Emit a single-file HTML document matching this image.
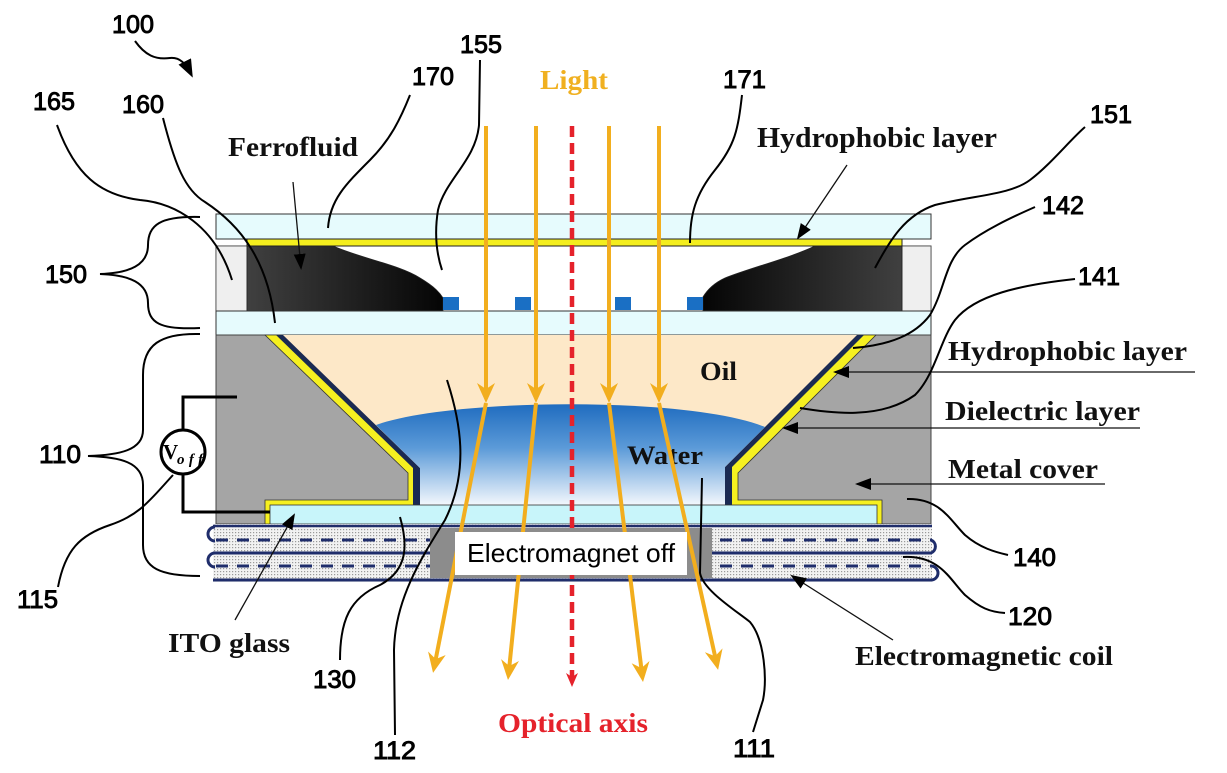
<!DOCTYPE html>
<html><head><meta charset="utf-8"><style>
html,body{margin:0;padding:0;background:#fff;}
svg{display:block;}
.num{font-family:"Liberation Sans",sans-serif;font-size:25px;fill:#000;stroke:#000;stroke-width:0.9;}
.lab{font-family:"Liberation Serif",serif;font-weight:bold;fill:#111;}
.ld{fill:none;stroke:#000;stroke-width:2;}
.th{fill:none;stroke:#111;stroke-width:1.3;}
</style></head><body>
<svg width="1227" height="773" viewBox="0 0 1227 773" xmlns="http://www.w3.org/2000/svg">
<defs>
<pattern id="dots" width="3" height="3" patternUnits="userSpaceOnUse">
<rect width="3" height="3" fill="#f2f2f2"/><rect x="1" y="1" width="1.2" height="1.2" fill="#9a9a9a"/>
</pattern>
<linearGradient id="ffL" x1="0" x2="1" y1="0" y2="0"><stop offset="0" stop-color="#404040"/><stop offset="1" stop-color="#050505"/></linearGradient>
<linearGradient id="ffR" x1="1" x2="0" y1="0" y2="0"><stop offset="0" stop-color="#404040"/><stop offset="1" stop-color="#050505"/></linearGradient>
<linearGradient id="wat" gradientUnits="userSpaceOnUse" x1="0" y1="400" x2="0" y2="506">
<stop offset="0" stop-color="#1a68bd"/><stop offset="0.45" stop-color="#5b9ad8"/><stop offset="1" stop-color="#f6f9fd"/></linearGradient>
<marker id="oa" viewBox="0 0 20 18" refX="15" refY="9" markerWidth="20" markerHeight="18" markerUnits="userSpaceOnUse" orient="auto">
<path d="M0,0 L20,9 L0,18 L6,9 Z" fill="#f2ae1e"/></marker>
<marker id="ra" viewBox="0 0 14 12" refX="10" refY="6" markerWidth="14" markerHeight="12" markerUnits="userSpaceOnUse" orient="auto">
<path d="M0,0 L14,6 L0,12 L4,6 Z" fill="#e5222b"/></marker>
<marker id="ba" viewBox="0 0 16 12" refX="14" refY="6" markerWidth="16" markerHeight="12" markerUnits="userSpaceOnUse" orient="auto">
<path d="M0,0 L16,6 L0,12 Z" fill="#000"/></marker>
<marker id="bb" viewBox="0 0 18 14" refX="14" refY="7" markerWidth="18" markerHeight="14" markerUnits="userSpaceOnUse" orient="auto">
<path d="M0,0 L18,7 L0,14 Z" fill="#000"/></marker>
</defs>

<!-- top section -->
<rect x="216" y="214" width="715" height="25" fill="#e6fbfd" stroke="#333" stroke-width="1"/>
<rect x="216" y="246" width="715" height="65" fill="#fff" stroke="#333" stroke-width="1"/>
<rect x="216" y="246" width="31" height="65" fill="#efefef" stroke="#444" stroke-width="0.8"/>
<rect x="902" y="246" width="29" height="65" fill="#efefef" stroke="#444" stroke-width="0.8"/>
<path d="M247,246 L333,246 C360,258 400,265 420,278 C435,287 440,293 443,298 L443,311 L247,311 Z" fill="url(#ffL)" stroke="#222" stroke-width="0.8"/>
<path d="M902,246 L815,246 C790,258 750,268 725,278 C712,284 706,292 703,297 L703,311 L902,311 Z" fill="url(#ffR)" stroke="#222" stroke-width="0.8"/>
<rect x="443" y="297" width="16" height="13" fill="#1a6fc4"/>
<rect x="515" y="297" width="16" height="13" fill="#1a6fc4"/>
<rect x="615" y="297" width="16" height="13" fill="#1a6fc4"/>
<rect x="687" y="297" width="16" height="13" fill="#1a6fc4"/>
<rect x="247" y="239" width="655" height="7" fill="#f4ee1e" stroke="#222" stroke-width="1"/>
<rect x="216" y="311" width="715" height="24" fill="#e6fbfd" stroke="#333" stroke-width="1"/>

<!-- metal cover & cavity -->
<rect x="216" y="335" width="715" height="189" fill="#a5a5a5" stroke="#444" stroke-width="1"/>
<path d="M265,335 L876,335 L738,473 L738,500 L882,500 L882,524 L265,524 L265,500 L408,500 L408,473 Z" fill="#f6f020" stroke="#333" stroke-width="0.8"/>
<path d="M276,335 L864,335 L732,467 L732,506 L413,506 L413,468 Z" fill="#1b2a52"/>
<path d="M283,335 L857,335 L725,467 L725,506 L420,506 L420,468 Z" fill="#fde8c8"/>
<path d="M376,425 C450,398 690,396 765,427 L725,467 L725,506 L420,506 L420,468 Z" fill="url(#wat)"/>
<rect x="270" y="505" width="607" height="19" fill="#c8f5fa" stroke="#333" stroke-width="0.8"/>

<!-- coil -->
<rect x="213" y="524" width="719" height="58" fill="url(#dots)"/>
<line x1="213" y1="526" x2="932" y2="526" stroke="#1f2d6b" stroke-width="2.5"/>
<line x1="213" y1="553" x2="932" y2="553" stroke="#1f2d6b" stroke-width="3"/>
<line x1="213" y1="580" x2="932" y2="580" stroke="#1f2d6b" stroke-width="3"/>
<line x1="216" y1="540" x2="932" y2="540" stroke="#1f2d6b" stroke-width="3" stroke-dasharray="12 9"/>
<line x1="216" y1="566" x2="932" y2="566" stroke="#1f2d6b" stroke-width="3" stroke-dasharray="12 9"/>
<path d="M215,527 A7,7 0 0 0 215,541" fill="none" stroke="#1f2d6b" stroke-width="3"/>
<path d="M215,553 A7,7 0 0 0 215,567" fill="none" stroke="#1f2d6b" stroke-width="3"/>
<path d="M931,540 A7,7 0 0 1 931,553" fill="none" stroke="#1f2d6b" stroke-width="3"/>
<path d="M931,566 A7,7 0 0 1 931,580" fill="none" stroke="#1f2d6b" stroke-width="3"/>
<rect x="430" y="528" width="282" height="50" fill="#8c8c8c"/>

<!-- Oil / Water text -->
<text class="lab" x="700" y="380" font-size="26" textLength="37" lengthAdjust="spacingAndGlyphs">Oil</text>
<text class="lab" x="627" y="464" font-size="26" textLength="76" lengthAdjust="spacingAndGlyphs">Water</text>

<!-- light rays -->
<g stroke="#f2ae1e" stroke-width="4" fill="none">
<line x1="486" y1="126" x2="486" y2="398" marker-end="url(#oa)"/>
<line x1="536" y1="126" x2="536" y2="398" marker-end="url(#oa)"/>
<line x1="609" y1="126" x2="609" y2="398" marker-end="url(#oa)"/>
<line x1="659" y1="126" x2="659" y2="398" marker-end="url(#oa)"/>
<line x1="486" y1="403" x2="434" y2="668" marker-end="url(#oa)"/>
<line x1="536" y1="403" x2="508.5" y2="675" marker-end="url(#oa)"/>
<line x1="609" y1="403" x2="642.4" y2="677" marker-end="url(#oa)"/>
<line x1="659" y1="403" x2="717" y2="665" marker-end="url(#oa)"/>
</g>
<line x1="572" y1="126" x2="572" y2="683" stroke="#e5222b" stroke-width="4.5" stroke-dasharray="11 6" marker-end="url(#ra)"/>

<!-- Electromagnet off box -->
<rect x="455" y="532" width="232" height="43" fill="#fff"/>
<text x="467" y="562" font-family="Liberation Sans, sans-serif" font-size="26" fill="#000" textLength="208" lengthAdjust="spacingAndGlyphs">Electromagnet off</text>

<!-- Voff -->
<path d="M237,397 L183,397 L183,430 M183,474 L183,512 L270,512" fill="none" stroke="#000" stroke-width="3"/>
<circle cx="183" cy="452" r="22" fill="#fff" stroke="#000" stroke-width="3"/>
<text x="163" y="459" font-family="Liberation Serif, serif" font-weight="bold" font-size="21" fill="#000">V</text>
<text x="177" y="464" font-family="Liberation Serif, serif" font-style="italic" font-weight="bold" font-size="15" fill="#000" textLength="26" lengthAdjust="spacing">off</text>

<!-- labels -->
<text class="lab" x="540" y="89" font-size="27" style="fill:#f0b020" textLength="68" lengthAdjust="spacingAndGlyphs">Light</text>
<text class="lab" x="498" y="732" font-size="27" style="fill:#e5222b" textLength="150" lengthAdjust="spacingAndGlyphs">Optical axis</text>
<text class="lab" x="228" y="156" font-size="27" textLength="130" lengthAdjust="spacingAndGlyphs">Ferrofluid</text>
<text class="lab" x="757" y="147" font-size="28" textLength="240" lengthAdjust="spacingAndGlyphs">Hydrophobic layer</text>
<text class="lab" x="948" y="360" font-size="27" textLength="239" lengthAdjust="spacingAndGlyphs">Hydrophobic layer</text>
<text class="lab" x="945" y="420" font-size="27" textLength="195" lengthAdjust="spacingAndGlyphs">Dielectric layer</text>
<text class="lab" x="948" y="478" font-size="27" textLength="150" lengthAdjust="spacingAndGlyphs">Metal cover</text>
<text class="lab" x="855" y="665" font-size="27" textLength="258" lengthAdjust="spacingAndGlyphs">Electromagnetic coil</text>
<text class="lab" x="168" y="652" font-size="27" textLength="122" lengthAdjust="spacingAndGlyphs">ITO glass</text>

<!-- thin arrow leaders -->
<line class="th" x1="293" y1="182" x2="301" y2="268" marker-end="url(#ba)"/>
<line class="th" x1="235" y1="620" x2="294" y2="515" marker-end="url(#ba)"/>
<line class="th" x1="847" y1="165" x2="798" y2="238" marker-end="url(#ba)"/>
<line class="th" x1="1195" y1="372" x2="835" y2="372" marker-end="url(#ba)"/>
<line class="th" x1="1140" y1="428" x2="784" y2="428" marker-end="url(#ba)"/>
<line class="th" x1="1105" y1="484" x2="857" y2="484" marker-end="url(#ba)"/>
<line class="th" x1="893" y1="640" x2="792" y2="576" marker-end="url(#ba)"/>

<!-- numeral leaders -->
<path class="ld" d="M135,41 C145,55 155,60 170,58 C180,57 186,64 191,74" marker-end="url(#bb)"/>
<path class="ld" d="M57,125 C75,175 100,195 140,200 C175,203 215,225 232,280"/>
<path class="ld" d="M163,118 C175,165 185,190 205,202 C240,225 268,260 275,323"/>
<path class="ld" d="M410,95 C400,120 390,140 370,160 C345,185 330,200 328,228"/>
<path class="ld" d="M480,60 L479,125 C476,160 445,180 438,210 C434,235 437,255 442,270"/>
<path class="ld" d="M742,95 C738,130 735,145 715,170 C695,195 690,215 690,243"/>
<path class="ld" d="M875,268 C890,240 905,215 935,205 C975,195 1010,195 1030,180 C1050,165 1070,140 1085,127"/>
<path class="ld" d="M853,348 C890,345 915,335 930,315 C945,290 945,260 965,245 C985,230 1010,218 1035,207"/>
<path class="ld" d="M800,408 C830,413 880,420 915,395 C935,375 940,340 955,320 C975,295 1020,285 1075,279"/>
<path class="ld" d="M200,217 C160,216 148,225 148,245 C148,265 130,273 100,274 C130,275 148,283 148,303 C148,323 160,330 200,328"/>
<path class="ld" d="M200,334 C160,333 143,345 143,375 L143,430 C143,450 120,455 88,456 C120,457 143,462 143,485 L143,545 C143,568 160,576 200,576"/>
<path class="ld" d="M58,587 C65,550 80,535 110,525 C140,515 150,500 173,475"/>
<path class="ld" d="M400,517 C408,545 408,570 380,585 C350,598 340,620 340,660"/>
<path class="ld" d="M447,380 C460,420 470,470 445,520 C420,560 395,600 394,650 L395,735"/>
<path class="ld" d="M702,478 L700,573 C703,590 735,610 750,622 C765,640 767,680 763,700 L753,732"/>
<path class="ld" d="M907,499 C940,498 950,520 965,535 C980,548 995,552 1008,555"/>
<path class="ld" d="M903,557 C940,555 950,580 965,595 C980,608 990,612 1005,613"/>

<!-- numerals -->
<text class="num" x="112" y="33" textLength="42" lengthAdjust="spacingAndGlyphs">100</text>
<text class="num" x="33" y="110" textLength="42" lengthAdjust="spacingAndGlyphs">165</text>
<text class="num" x="122" y="113" textLength="42" lengthAdjust="spacingAndGlyphs">160</text>
<text class="num" x="412" y="85" textLength="42" lengthAdjust="spacingAndGlyphs">170</text>
<text class="num" x="460" y="53" textLength="42" lengthAdjust="spacingAndGlyphs">155</text>
<text class="num" x="723" y="88" textLength="43" lengthAdjust="spacingAndGlyphs">171</text>
<text class="num" x="1090" y="123" textLength="42" lengthAdjust="spacingAndGlyphs">151</text>
<text class="num" x="1042" y="214" textLength="42" lengthAdjust="spacingAndGlyphs">142</text>
<text class="num" x="1078" y="285" textLength="42" lengthAdjust="spacingAndGlyphs">141</text>
<text class="num" x="45" y="283" textLength="42" lengthAdjust="spacingAndGlyphs">150</text>
<text class="num" x="39" y="463" textLength="42" lengthAdjust="spacingAndGlyphs">110</text>
<text class="num" x="17" y="608" textLength="41" lengthAdjust="spacingAndGlyphs">115</text>
<text class="num" x="313" y="688" textLength="43" lengthAdjust="spacingAndGlyphs">130</text>
<text class="num" x="373" y="759" textLength="43" lengthAdjust="spacingAndGlyphs">112</text>
<text class="num" x="733" y="757" textLength="42" lengthAdjust="spacingAndGlyphs">111</text>
<text class="num" x="1013" y="566" textLength="43" lengthAdjust="spacingAndGlyphs">140</text>
<text class="num" x="1008" y="625" textLength="44" lengthAdjust="spacingAndGlyphs">120</text>
</svg>
</body></html>
